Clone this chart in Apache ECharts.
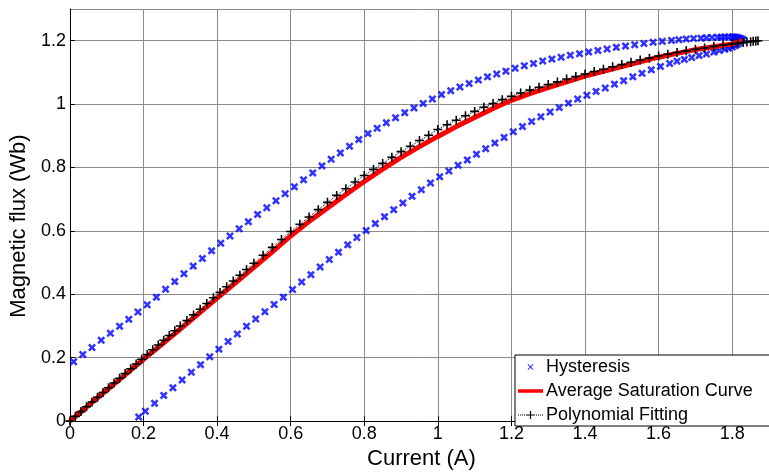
<!DOCTYPE html>
<html>
<head>
<meta charset="utf-8">
<script src="https://cdn.jsdelivr.net/npm/echarts@6/dist/echarts.min.js"></script>
<style>html,body{margin:0;padding:0;background:#fff}#c{width:769px;height:475px}</style>
</head>
<body>
<div id="c"></div>
<script>
// ---- data ----
const xTicks = [0, 0.2, 0.4, 0.6, 0.8, 1, 1.2, 1.4, 1.6, 1.8];
const yTicks = [0, 0.2, 0.4, 0.6, 0.8, 1, 1.2];

const hystUpperX = [0.010,0.035,0.060,0.085,0.110,0.135,0.160,0.185,0.210,0.235,0.260,0.285,0.310,0.335,0.360,0.385,0.410,0.435,0.460,0.485,0.510,0.535,0.560,0.585,0.610,0.635,0.660,0.685,0.710,0.735,0.760,0.785,0.810,0.835,0.860,0.885,0.910,0.935,0.960,0.985,1.010,1.035,1.060,1.085,1.110,1.135,1.160,1.185,1.210,1.235,1.260,1.285,1.310,1.335,1.360,1.385,1.410,1.435,1.460,1.485,1.510,1.535,1.560,1.585,1.610,1.635,1.655,1.675,1.695,1.715,1.730,1.745,1.760,1.770,1.780,1.790,1.800,1.805,1.810,1.815,1.820,1.825,1.830];
const hystUpperY = [0.187,0.210,0.232,0.255,0.277,0.299,0.321,0.344,0.367,0.391,0.416,0.440,0.465,0.489,0.513,0.537,0.561,0.584,0.607,0.629,0.652,0.673,0.695,0.717,0.739,0.761,0.783,0.805,0.826,0.846,0.867,0.888,0.907,0.924,0.941,0.957,0.973,0.988,1.002,1.016,1.030,1.042,1.054,1.065,1.076,1.086,1.095,1.104,1.113,1.121,1.128,1.136,1.142,1.148,1.154,1.159,1.164,1.169,1.174,1.179,1.183,1.187,1.191,1.195,1.198,1.201,1.203,1.205,1.207,1.208,1.209,1.210,1.211,1.211,1.212,1.212,1.212,1.212,1.211,1.210,1.208,1.206,1.203];

const hystLowerX = [0.187,0.205,0.230,0.255,0.280,0.305,0.330,0.355,0.380,0.405,0.430,0.455,0.480,0.505,0.530,0.555,0.580,0.605,0.630,0.655,0.680,0.705,0.730,0.755,0.780,0.805,0.830,0.855,0.880,0.905,0.930,0.955,0.980,1.005,1.030,1.055,1.080,1.105,1.130,1.155,1.180,1.205,1.230,1.255,1.280,1.305,1.330,1.355,1.380,1.405,1.430,1.455,1.480,1.505,1.530,1.555,1.580,1.605,1.630,1.650,1.670,1.690,1.710,1.730,1.750,1.765,1.780,1.790,1.800,1.808,1.815,1.820,1.825];
const hystLowerY = [0.013,0.031,0.056,0.081,0.105,0.130,0.154,0.178,0.203,0.227,0.251,0.275,0.299,0.322,0.345,0.368,0.391,0.415,0.439,0.462,0.486,0.510,0.533,0.556,0.579,0.601,0.623,0.645,0.667,0.688,0.709,0.730,0.751,0.771,0.789,0.807,0.824,0.842,0.859,0.877,0.895,0.913,0.929,0.945,0.960,0.975,0.989,1.003,1.016,1.028,1.040,1.051,1.063,1.074,1.086,1.097,1.108,1.119,1.128,1.135,1.141,1.147,1.153,1.158,1.164,1.169,1.173,1.176,1.180,1.184,1.189,1.194,1.200];

const avgX = [0,0.05,0.1,0.15,0.2,0.25,0.3,0.35,0.4,0.45,0.5,0.55,0.6,0.65,0.7,0.75,0.8,0.85,0.9,0.95,1.0,1.05,1.1,1.15,1.2,1.25,1.3,1.35,1.4,1.45,1.5,1.55,1.6,1.65,1.7,1.75,1.8,1.83];
const avgY = [0,0.049,0.098,0.146,0.195,0.242,0.290,0.339,0.388,0.436,0.485,0.534,0.584,0.630,0.672,0.715,0.756,0.795,0.832,0.866,0.898,0.929,0.958,0.986,1.012,1.033,1.052,1.070,1.088,1.103,1.118,1.133,1.148,1.160,1.172,1.181,1.190,1.200];

const polyX = [0,0.015,0.03,0.045,0.06,0.075,0.09,0.105,0.12,0.135,0.15,0.165,0.18,0.195,0.21,0.225,0.24,0.255,0.27,0.285,0.3,0.318,0.336,0.354,0.372,0.39,0.408,0.426,0.444,0.462,0.48,0.5,0.525,0.55,0.575,0.6,0.625,0.65,0.675,0.7,0.725,0.75,0.775,0.8,0.825,0.85,0.875,0.9,0.925,0.95,0.975,1.0,1.025,1.05,1.075,1.1,1.125,1.15,1.175,1.2,1.225,1.25,1.275,1.3,1.325,1.35,1.375,1.4,1.425,1.45,1.475,1.5,1.525,1.55,1.575,1.6,1.625,1.65,1.675,1.7,1.725,1.75,1.775,1.8,1.815,1.83,1.84,1.85,1.857,1.864,1.87];
const polyY = [0,0.015,0.03,0.045,0.06,0.075,0.09,0.105,0.12,0.135,0.15,0.165,0.18,0.195,0.21,0.225,0.24,0.255,0.27,0.285,0.3,0.317,0.335,0.353,0.371,0.389,0.406,0.424,0.442,0.460,0.478,0.498,0.523,0.548,0.573,0.598,0.621,0.644,0.667,0.690,0.712,0.733,0.754,0.775,0.794,0.813,0.832,0.850,0.867,0.885,0.902,0.920,0.935,0.949,0.963,0.977,0.990,1.002,1.014,1.025,1.035,1.044,1.053,1.062,1.070,1.079,1.087,1.095,1.103,1.110,1.118,1.125,1.132,1.139,1.145,1.152,1.157,1.163,1.168,1.173,1.177,1.182,1.186,1.190,1.192,1.194,1.196,1.197,1.198,1.199,1.200];

const seriesNames = ['Hysteresis', 'Average Saturation Curve', 'Polynomial Fitting'];
// ---- end data ----

const zip = (xs, ys) => xs.map((x, i) => [x, ys[i]]);
const hystData = zip(hystUpperX, hystUpperY).concat(zip(hystLowerX, hystLowerY));

const xMark = 'path://M-4,-2.2L-2.2,-4L0,-1.8L2.2,-4L4,-2.2L1.8,0L4,2.2L2.2,4L0,1.8L-2.2,4L-4,2.2L-1.8,0Z';
const plusMark = 'path://M-4,-0.7H4V0.7H-4Z M-0.7,-4H0.7V4H-0.7Z';
const xLegend = 'path://M0,0h0.001v0.001z M9.5,4.7L10.2,4L12.5,6.3L14.8,4L15.5,4.7L13.2,7L15.5,9.3L14.8,10L12.5,7.7L10.2,10L9.5,9.3L11.8,7Z M25,14h-0.001v-0.001z';
const lineLegend = 'path://M0,0h0.001v0.001z M0,5.2H25V8.8H0Z M25,14h-0.001v-0.001z';
let dots = '';
for (let i = 0; i < 25; i += 2) dots += 'M' + i + ',6.5h1v1h-1Z ';
const polyLegend = 'path://M0,0h0.001v0.001z ' + dots + 'M8.5,6.4H16.5V7.6H8.5Z M11.9,3H13.1V11H11.9Z M25,14h-0.001v-0.001z';

const FONT = "'Liberation Sans', Arial, sans-serif";
const chart = echarts.init(document.getElementById('c'), null, {renderer: 'canvas'});
chart.setOption({
  animation: false,
  backgroundColor: '#fff',
  grid: {left: 69, top: 9, width: 710.4, height: 416},
  legend: {
    orient: 'vertical', left: 515, top: 355,
    backgroundColor: '#fff', borderColor: '#000', borderWidth: 1, borderRadius: 0,
    padding: [3, 30, 2, 3],
    itemWidth: 25, itemHeight: 14, itemGap: 6,
    textStyle: {fontFamily: FONT, fontSize: 18, color: '#000', padding: [0, 0, 0, -2]},
    data: [
      {name: seriesNames[0], icon: xLegend},
      {name: seriesNames[1], icon: lineLegend},
      {name: seriesNames[2], icon: polyLegend, itemStyle: {color: '#000'}}
    ]
  },
  xAxis: [{
    type: 'value', min: 0, max: 1.9, interval: 0.2,
    name: 'Current (A)', nameLocation: 'middle', nameGap: 21,
    nameTextStyle: {fontFamily: FONT, fontSize: 22, color: '#000', padding: [0, 0, 0, 4]},
    axisLine: {show: true, onZero: false, lineStyle: {color: '#000', width: 1}},
    axisTick: {show: true, inside: true, length: 5, lineStyle: {color: '#000'}},
    axisLabel: {fontFamily: FONT, fontSize: 18, color: '#000', margin: 4, showMaxLabel: false,
      formatter: v => (xTicks.some(t => Math.abs(t - v) < 1e-9) ? String(+v.toFixed(1)) : '')},
    splitLine: {show: true, lineStyle: {color: '#8c8c8c', width: 1}}
  }, {
    type: 'value', position: 'top', min: 0, max: 1.9, interval: 0.2,
    axisLine: {show: true, lineStyle: {color: '#000', width: 1}},
    axisTick: {show: true, inside: true, length: 5, lineStyle: {color: '#000'}},
    axisLabel: {show: false}, splitLine: {show: false}
  }],
  yAxis: {
    type: 'value', min: 0, max: 1.3, interval: 0.2,
    name: 'Magnetic flux (Wb)', nameLocation: 'middle', nameGap: 32,
    nameTextStyle: {fontFamily: FONT, fontSize: 22, color: '#000', padding: [0, 22, 0, 0]},
    axisLine: {show: true, onZero: false, lineStyle: {color: '#000', width: 1}},
    axisTick: {show: true, inside: true, length: 5, lineStyle: {color: '#000'}},
    axisLabel: {fontFamily: FONT, fontSize: 18, color: '#000', margin: 4, showMaxLabel: false,
      formatter: v => (yTicks.some(t => Math.abs(t - v) < 1e-9) ? String(+v.toFixed(1)) : '')},
    splitLine: {show: true, lineStyle: {color: '#8c8c8c', width: 1}}
  },
  series: [{
    name: seriesNames[0], type: 'scatter', data: hystData,
    symbol: xMark, symbolSize: 8, itemStyle: {color: '#0000ff'}, z: 2
  }, {
    name: seriesNames[1], type: 'line', data: zip(avgX, avgY),
    symbol: 'none', lineStyle: {color: '#ff0000', width: 5}, itemStyle: {color: '#ff0000'}, z: 3
  }, {
    name: seriesNames[2], type: 'line', data: zip(polyX, polyY),
    symbol: plusMark, symbolSize: 9, showAllSymbol: true,
    lineStyle: {color: '#000', width: 1, type: 'dotted'}, itemStyle: {color: '#000'}, z: 4
  }]
});
</script>
</body>
</html>
